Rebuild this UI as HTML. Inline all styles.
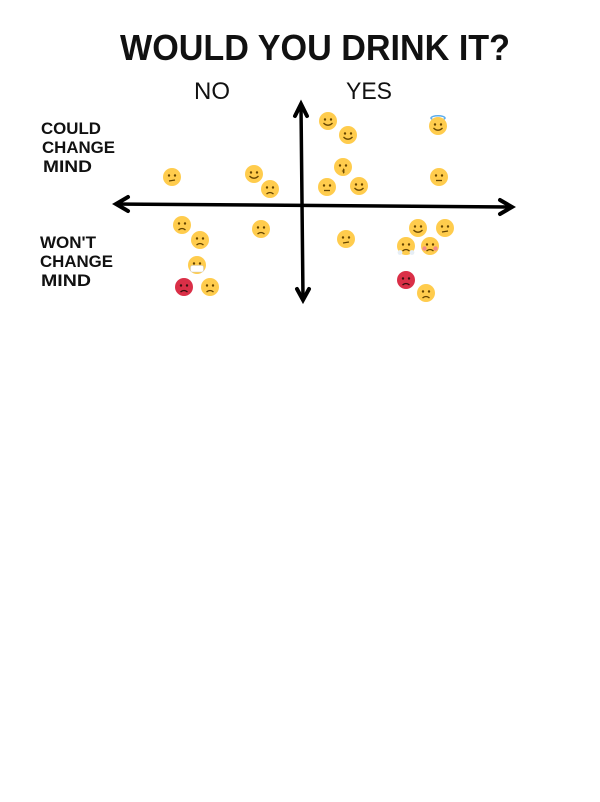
<!DOCTYPE html>
<html><head><meta charset="utf-8"><style>
html,body{margin:0;padding:0;background:#fff;width:600px;height:802px;overflow:hidden}
svg{display:block}
text{font-family:"Liberation Sans",sans-serif;font-weight:bold;fill:#111}
</style></head><body>
<svg id="chart" width="600" height="802" viewBox="0 0 600 802">
<text x="120" y="60" font-size="36" textLength="390" lengthAdjust="spacingAndGlyphs">WOULD YOU DRINK IT?</text>
<text x="194" y="99" font-size="24" style="font-weight:normal" textLength="36" lengthAdjust="spacingAndGlyphs">NO</text>
<text x="346" y="99" font-size="24" style="font-weight:normal" textLength="46" lengthAdjust="spacingAndGlyphs">YES</text>
<g font-size="17">
<text x="41" y="134" textLength="60" lengthAdjust="spacingAndGlyphs">COULD</text>
<text x="42" y="153" textLength="73" lengthAdjust="spacingAndGlyphs">CHANGE</text>
<text x="43" y="172" textLength="49" lengthAdjust="spacingAndGlyphs">MIND</text>
</g>
<g font-size="17">
<text x="40" y="248" textLength="56" lengthAdjust="spacingAndGlyphs">WON'T</text>
<text x="40" y="267" textLength="73" lengthAdjust="spacingAndGlyphs">CHANGE</text>
<text x="41" y="286" textLength="50" lengthAdjust="spacingAndGlyphs">MIND</text>
</g>
<g stroke="#000" stroke-width="3.5" fill="none" stroke-linecap="round">
<line x1="118" y1="204" x2="510" y2="207"/>
<path d="M128 197 L116 204 L128 211" stroke-width="4"/>
<path d="M500 200 L512 207 L500 214" stroke-width="4"/>
</g>
<g stroke="#000" stroke-width="3.5" fill="none" stroke-linecap="round">
<line x1="301" y1="106" x2="303" y2="298"/>
<path d="M295 116 L301 104 L307 116" stroke-width="4"/>
<path d="M297 289 L303 300 L309 289" stroke-width="4"/>
</g>
<g id="points"></g>
</svg>
<script>
const xs = [1.3, 2.3, 6.8, -6.5, -2.4, -1.6, 2.05, 1.25, 2.85, 6.85, -6, -5.1, -2.05, 2.2, 5.8, 7.15, 5.2, 6.4, -5.25, -5.9, -4.6, 5.2, 6.2];
const ys = [8.4, 7.0, 7.9, 2.8, 3.1, 1.6, 3.8, 1.8, 1.9, 2.8, -2, -3.5, -2.4, -3.4, -2.3, -2.3, -4.1, -4.1, -6, -8.2, -8.2, -7.5, -8.8];
const faces = ["grin","smile","halo","confused","grin","unamused","kiss","neutral","smile","neutral","unamused","weary","weary","confused","smile","confused","steam","flushed","mask","rage","angry","rage","angry"];
function sx(v){return 302+v*20;}
function sy(v){return 205-v*10;}
const NS="http://www.w3.org/2000/svg";
const g=document.getElementById('points');
function add(p,tag,attrs){const e=document.createElementNS(NS,tag);for(const k in attrs)e.setAttribute(k,attrs[k]);p.appendChild(e);return e;}
xs.forEach((xv,i)=>{
  const cx=sx(xv), cy=sy(ys[i]), f=faces[i];
  const grp=add(g,'g',{transform:`translate(${cx},${cy})`});
  
  
  const fill = f==="rage" ? "#DA2F47" : "#FFCC4D";
  if(f==="halo") add(grp,'ellipse',{cx:0,cy:-8,rx:7,ry:2.2,fill:"none",stroke:"#5DADEC","stroke-width":1.5});
  add(grp,'circle',{cx:0,cy:0,r:9,fill:fill});
  const ink = f==="rage" ? "#3a1010" : "#664500";
  add(grp,'circle',{cx:-3,cy:-1.5,r:1.2,fill:ink});
  add(grp,'circle',{cx:3,cy:-1.5,r:1.2,fill:ink});
  let mouth;
  if(f==="grin"||f==="smile"||f==="halo") mouth="M-4.5 2 Q0 6.5 4.5 2";
  else if(f==="neutral") mouth="M-3 3.5 L3 3.5";
  else if(f==="confused") mouth="M-3 4 L3 3";
  else if(f==="kiss") mouth="M0 2 Q2 3 0 4 Q2 5 0 6";
  else if(f==="mask") mouth=null;
  else mouth="M-3.5 5 Q0 2 3.5 5";
  if(mouth) add(grp,'path',{d:mouth,fill:"none",stroke:ink,"stroke-width":1.3});
  if(f==="mask") add(grp,'rect',{x:-6.5,y:0.5,width:13,height:6.5,rx:2,fill:"#fff",stroke:"#ccc","stroke-width":0.6});
  if(f==="flushed"){add(grp,'circle',{cx:-5.5,cy:2.5,r:2.2,fill:"#f28a8a"});add(grp,'circle',{cx:5.5,cy:2.5,r:2.2,fill:"#f28a8a"});}
  if(f==="steam"){add(grp,'circle',{cx:-6,cy:6.5,r:2.4,fill:"#e6eef5"});add(grp,'circle',{cx:6,cy:6.5,r:2.4,fill:"#e6eef5"});}
});
</script>
</body></html>
